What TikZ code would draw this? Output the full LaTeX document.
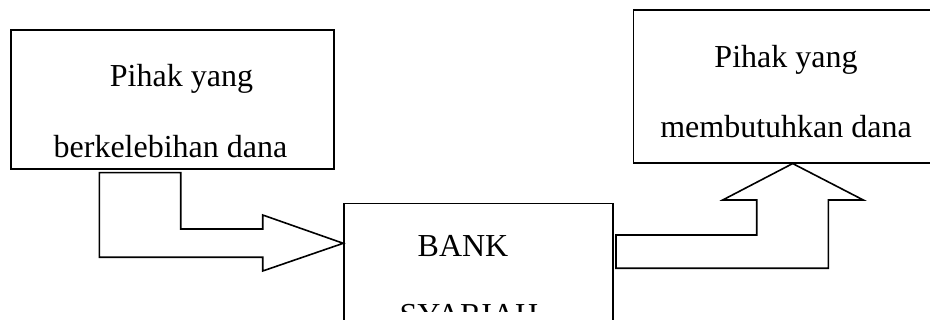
\documentclass[tikz,border=0pt]{standalone}
\usepackage{fontspec}
\setmainfont{Liberation Serif}
\begin{document}
\begin{tikzpicture}[x=1pt,y=-1pt,line width=1.6pt,line join=miter,
  box/.style={draw,rectangle,inner sep=0pt},
  lbl/.style={font=\fontsize{32}{38}\selectfont,anchor=base,inner sep=0pt},
  blockarrow/.style={draw,line width=1.6pt,line join=miter}]
\useasboundingbox (0,0) rectangle (930,320);
\clip (0,0) rectangle (930,320);
% boxes
\node[box,minimum width=323pt,minimum height=139pt] (donor) at (172.5,99.5) {};
\node[box,minimum width=268.7pt,minimum height=136.7pt] (bank) at (478.4,271.7) {};
\node[box,minimum width=311.7pt,minimum height=152.7pt] (need) at (789.2,86.4) {};
% texts
\node[lbl] (t1) at (181.5,87) {Pihak yang};
\node[lbl] (t2) at (170.5,158) {berkelebihan dana};
\node[lbl] (t3) at (786,68) {Pihak yang};
\node[lbl] (t4) at (786,138) {membutuhkan dana};
\node[lbl] (t5) at (463,257) {BANK};
\begin{scope}
\clip (344,0) rectangle (613,312);
\node[lbl] (t6) at (469,326) {SYARIAH};
\end{scope}
% left bent arrow: from donor to bank
\coordinate (tipL) at (bank.west |- 0,243.3);
\draw[blockarrow] (99.3,172.7) -- (180.7,172.7) -- (180.7,229) -- (262.7,229)
  -- (262.7,215) -- (tipL) -- (262.7,271) -- (262.7,257.3) -- (99.3,257.3) -- cycle;
% right bent arrow: from bank to need
\coordinate (tipR) at (792.7,0 |- need.south);
\draw[blockarrow] (tipR) -- (722.7,200) -- (756.7,200) -- (756.7,235) -- (616,235)
  -- (616,268.3) -- (828.3,268.3) -- (828.3,200) -- (863.3,200) -- cycle;
\end{tikzpicture}
\end{document}
